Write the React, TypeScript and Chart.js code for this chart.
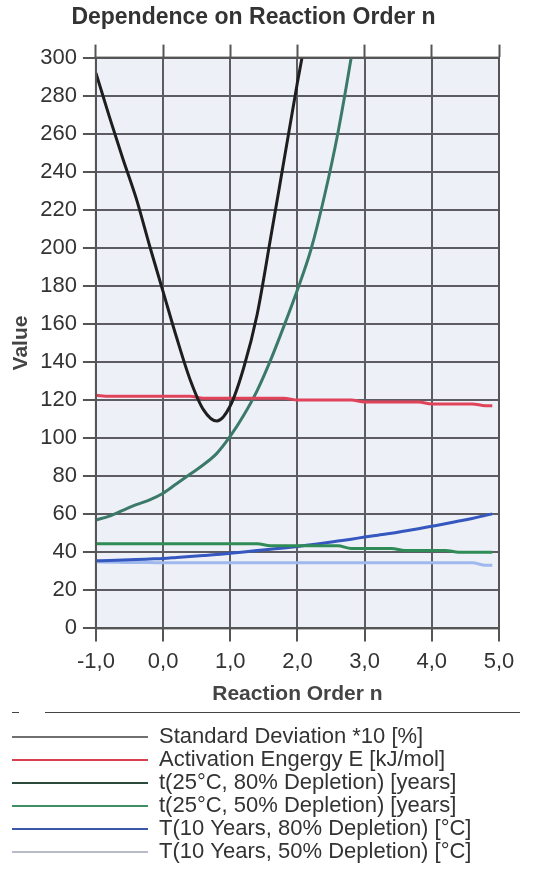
import React, { useEffect, useRef } from "react";
import { Chart, registerables } from "chart.js";

Chart.register(...registerables);

const nValues = [-1.0, -0.8, -0.6, -0.4, -0.2, 0.0, 0.2, 0.4, 0.6, 0.8, 1.0, 1.2, 1.4, 1.6, 1.8, 2.0, 2.2, 2.4, 2.6, 2.8, 3.0, 3.2, 3.4, 3.6, 3.8, 4.0, 4.2, 4.4, 4.6, 4.8, 4.9];

const stdDev10 = [292, 269, 247, 226, 201, 177, 153, 131, 115, 109, 117, 137, 165, 205, 246, 287, 325, null, null, null, null, null, null, null, null, null, null, null, null, null, null];
const activationE = [122.5, 122, 122, 122, 122, 122, 122, 122, 121, 121, 121, 121, 121, 121, 121, 120, 120, 120, 120, 120, 119, 119, 119, 119, 119, 118, 118, 118, 118, 117, 117];
const t25c80 = [57, 59, 62, 65, 67.5, 71, 76, 81, 86, 92, 101, 112, 125, 141, 159, 178, 199, 227, 260, 300, 345, null, null, null, null, null, null, null, null, null, null];
const t25c50 = [44.5, 44.5, 44.5, 44.5, 44.5, 44.5, 44.5, 44.5, 44.5, 44.5, 44.5, 44.5, 44.5, 43.5, 43.5, 43.5, 43.5, 43.5, 43.5, 42, 42, 42, 42, 41, 41, 41, 41, 40, 40, 40, 40];
const T10y80 = [35.5, 35.7, 36, 36.2, 36.5, 36.8, 37.3, 37.8, 38.3, 38.8, 39.5, 40.2, 40.9, 41.6, 42.3, 43.1, 44, 44.9, 45.9, 46.9, 48, 49, 50, 51.2, 52.4, 53.7, 55, 56.4, 57.8, 59.4, 60.2];
const T10y50 = [35, 34.8, 34.7, 34.6, 34.6, 34.5, 34.5, 34.5, 34.5, 34.5, 34.5, 34.5, 34.5, 34.5, 34.5, 34.5, 34.5, 34.5, 34.5, 34.5, 34.5, 34.5, 34.5, 34.5, 34.5, 34.5, 34.5, 34.5, 34.5, 33.2, 33.2];

const seriesLabels = [
  "Standard Deviation *10 [%]",
  "Activation Engergy E [kJ/mol]",
  "t(25°C, 80% Depletion) [years]",
  "t(25°C, 50% Depletion) [years]",
  "T(10 Years, 80% Depletion) [°C]",
  "T(10 Years, 50% Depletion) [°C]",
];
const seriesValues = [stdDev10, activationE, t25c80, t25c50, T10y80, T10y50];
const lineColors = ["#1e1e1e", "#e0435a", "#3b7a68", "#2f8c56", "#3557c0", "#9fb9ee"];
const legendColors = ["#707070", "#d8404f", "#2c4a3c", "#3f8f64", "#3a58a8", "#b8bcc8"];
const lineWidths = [3, 3, 3, 3, 3, 3];

const xTicks = [-1, 0, 1, 2, 3, 4, 5];

const FONT = "'Liberation Sans', Arial, sans-serif";

export default function App() {
  const ref = useRef<HTMLCanvasElement | null>(null);
  useEffect(() => {
    if (!ref.current) return;
    const bgPlugin = {
      id: "bg",
      afterLayout(chart: any) {
        if (chart.legend) {
          chart.legend.left += 3;
          chart.legend.right += 3;
        }
      },
      beforeDraw(chart: any) {
        const { ctx, chartArea } = chart;
        ctx.save();
        ctx.fillStyle = "#eef0f7";
        ctx.fillRect(chartArea.left, chartArea.top, chartArea.right - chartArea.left, chartArea.bottom - chartArea.top);
        ctx.restore();
      },
      afterDraw(chart: any) {
        const { ctx, chartArea, legend } = chart;
        ctx.save();
        ctx.strokeStyle = "#555";
        ctx.lineWidth = 2;
        ctx.strokeRect(chartArea.left, chartArea.top, chartArea.right - chartArea.left, chartArea.bottom - chartArea.top);
        const y = Math.round(legend.top - 13) + 0.5;
        ctx.lineWidth = 1;
        ctx.strokeStyle = "#444";
        ctx.beginPath();
        ctx.moveTo(45, y);
        ctx.lineTo(520, y);
        ctx.moveTo(12, y);
        ctx.lineTo(19, y);
        ctx.stroke();
        ctx.restore();
      },
    };
    const chart = new Chart(ref.current, {
      type: "line",
      data: {
        datasets: seriesLabels.map((label, i) => ({
          label,
          data: nValues.map((x, j) => ({ x, y: seriesValues[i][j] })),
          borderColor: lineColors[i],
          backgroundColor: legendColors[i],
          borderWidth: lineWidths[i],
          pointRadius: 0,
          tension: 0.3,
          cubicInterpolationMode: "monotone" as const,
          spanGaps: false,
        })),
      },
      options: {
        animation: false,
        responsive: true,
        maintainAspectRatio: false,
        layout: { padding: { left: 8, right: 34, top: 0, bottom: 15 } },
        plugins: {
          title: {
            display: true,
            text: "Dependence on Reaction Order n",
            color: "#333",
            font: { family: FONT, size: 23, weight: "bold" },
            padding: { top: 4, bottom: 13 },
          },
          legend: {
            position: "bottom",
            align: "start",
            labels: {
              usePointStyle: true,
              pointStyle: "line",
              pointStyleWidth: 136,
              padding: 1,
              color: "#333",
              font: { family: FONT, size: 22 },
              generateLabels(chart: any) {
                return chart.data.datasets.map((ds: any, i: number) => ({
                  text: ds.label,
                  fillStyle: legendColors[i],
                  strokeStyle: legendColors[i],
                  lineWidth: 2,
                  pointStyle: "line",
                  hidden: false,
                  datasetIndex: i,
                  fontColor: "#333",
                }));
              },
            },
          },
          tooltip: { enabled: false },
        },
        scales: {
          x: {
            type: "linear",
            position: "bottom",
            min: -1,
            max: 5,
            afterBuildTicks(scale: any) {
              scale.ticks = xTicks.map((v) => ({ value: v }));
            },
            ticks: {
              color: "#333",
              font: { family: FONT, size: 22 },
              padding: 7,
              maxRotation: 0,
              callback: (v: any) => Number(v).toFixed(1).replace(".", ","),
            },
            grid: { color: "#5c5c62", lineWidth: 2, tickLength: 13, tickColor: "#555", tickWidth: 2 },
            border: { color: "#555", width: 2 },
            title: {
              display: true,
              text: "Reaction Order n",
              color: "#444",
              font: { family: FONT, size: 21, weight: "bold" },
              padding: { top: 0, bottom: 18 },
            },
          },
          xTop: {
            type: "linear",
            position: "top",
            min: -1,
            max: 5,
            afterBuildTicks(scale: any) {
              scale.ticks = xTicks.map((v) => ({ value: v }));
            },
            ticks: { display: false },
            grid: { drawOnChartArea: false, tickLength: 13, tickColor: "#555", tickWidth: 2 },
            border: { color: "#555", width: 2 },
          },
          y: {
            type: "linear",
            min: 0,
            max: 300,
            ticks: {
              stepSize: 20,
              color: "#333",
              font: { family: FONT, size: 22 },
              padding: 6,
            },
            grid: { color: "#5c5c62", lineWidth: 2, tickLength: 13, tickColor: "#555", tickWidth: 2 },
            border: { color: "#555", width: 2 },
            title: {
              display: true,
              text: "Value",
              color: "#444",
              font: { family: FONT, size: 21, weight: "bold" },
              padding: { top: 1, bottom: 0 },
            },
          },
        },
      },
      plugins: [bgPlugin],
    });
    return () => chart.destroy();
  }, []);
  return (
    <div style={{ position: "absolute", left: 0, top: 0, width: 533, height: 888, background: "#fff" }}>
      <canvas ref={ref} />
    </div>
  );
}
